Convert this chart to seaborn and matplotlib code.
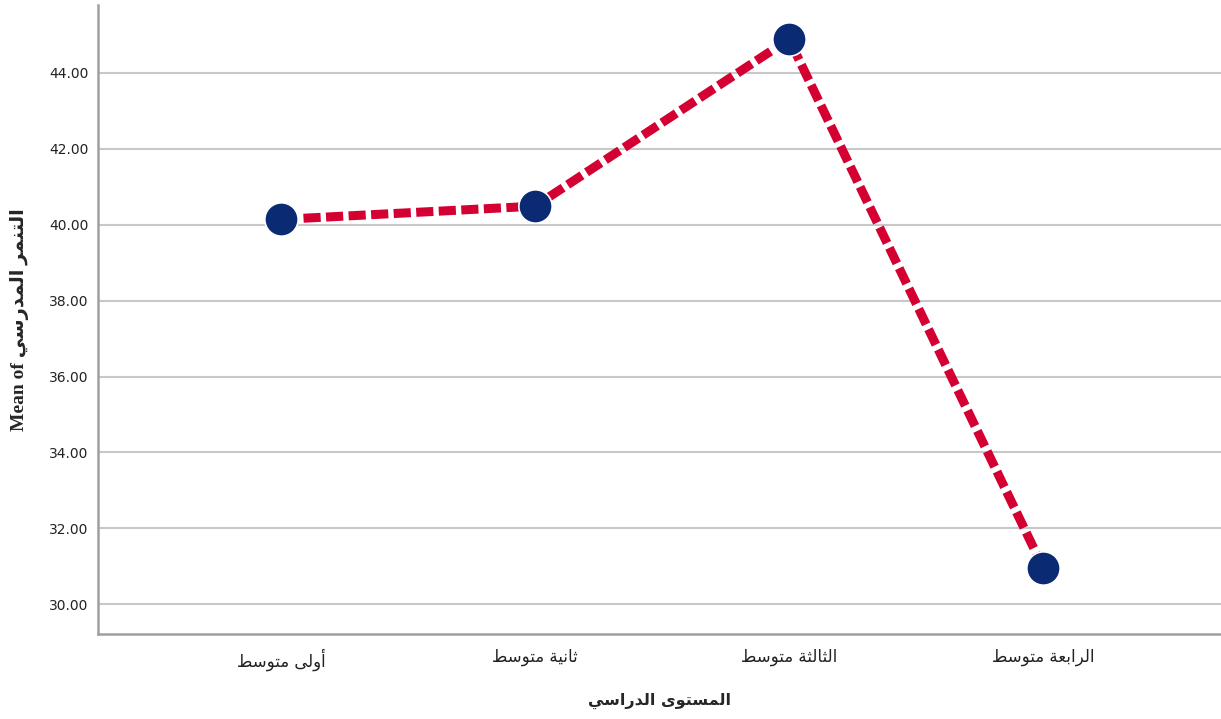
import matplotlib
matplotlib.use("Agg")
import matplotlib.pyplot as plt
import seaborn as sns
import pandas as pd

# --- chart data (logical Arabic text) ---
levels = ["أولى متوسط", "ثانية متوسط", "الثالثة متوسط", "الرابعة متوسط"]
mean_bullying = [40.14, 40.49, 44.89, 30.96]
y_ticks = [30, 32, 34, 36, 38, 40, 42, 44]
x_title = "المستوى الدراسي"
y_title_prefix = "Mean of "
y_title_ar = "التنمر المدرسي"

# minimal Arabic shaping: (isolated, final, initial, medial)
FORMS = {
    "ا": ("\uFE8D", "\uFE8E", None, None),
    "أ": ("\uFE83", "\uFE84", None, None),
    "ب": ("\uFE8F", "\uFE90", "\uFE91", "\uFE92"),
    "ة": ("\uFE93", "\uFE94", None, None),
    "ت": ("\uFE95", "\uFE96", "\uFE97", "\uFE98"),
    "ث": ("\uFE99", "\uFE9A", "\uFE9B", "\uFE9C"),
    "د": ("\uFEA9", "\uFEAA", None, None),
    "ر": ("\uFEAD", "\uFEAE", None, None),
    "س": ("\uFEB1", "\uFEB2", "\uFEB3", "\uFEB4"),
    "ط": ("\uFEC1", "\uFEC2", "\uFEC3", "\uFEC4"),
    "ع": ("\uFEC9", "\uFECA", "\uFECB", "\uFECC"),
    "ل": ("\uFEDD", "\uFEDE", "\uFEDF", "\uFEE0"),
    "م": ("\uFEE1", "\uFEE2", "\uFEE3", "\uFEE4"),
    "ن": ("\uFEE5", "\uFEE6", "\uFEE7", "\uFEE8"),
    "و": ("\uFEED", "\uFEEE", None, None),
    "ى": ("\uFEEF", "\uFEF0", None, None),
    "ي": ("\uFEF1", "\uFEF2", "\uFEF3", "\uFEF4"),
}


def shape_ar(text):
    """Turn logical Arabic into joined presentation forms in visual order."""
    out = []
    for i, ch in enumerate(text):
        if ch not in FORMS:
            out.append(ch)
            continue
        prev = text[i - 1] if i > 0 else ""
        nxt = text[i + 1] if i + 1 < len(text) else ""
        joins_prev = prev in FORMS and FORMS[prev][2] is not None
        joins_next = FORMS[ch][2] is not None and nxt in FORMS
        iso, fin, ini, med = FORMS[ch]
        if joins_prev and joins_next:
            out.append(med)
        elif joins_prev:
            out.append(fin)
        elif joins_next:
            out.append(ini)
        else:
            out.append(iso)
    return "".join(out)[::-1]


df = pd.DataFrame({"level": [shape_ar(s) for s in levels], "mean": mean_bullying})

sns.set_style("white")
fig = plt.figure(figsize=(12.21, 7.19), dpi=100)
ax = fig.add_axes([0.0803, 0.118, 0.9197, 0.875])

sns.lineplot(
    data=df, x="level", y="mean", ax=ax, sort=False,
    color="#d50032", linewidth=6.5, linestyle=(0, (1.9, 0.6)),
    marker="o", markersize=24, markerfacecolor="#0a2a73",
    markeredgecolor="white", markeredgewidth=1.2,
)

ax.set_xlim(-0.72, 3.70)
ax.set_ylim(29.21, 45.79)
ax.set_yticks(y_ticks)
ax.set_yticklabels([f"{v:.2f}" for v in y_ticks])
ax.yaxis.grid(True, color="#c8c8c8", linewidth=1.5)
ax.set_axisbelow(True)

for side in ["top", "right"]:
    ax.spines[side].set_visible(False)
for side in ["left", "bottom"]:
    ax.spines[side].set_color("#a0a0a0")
    ax.spines[side].set_linewidth(1.8)

ax.tick_params(axis="y", length=0, pad=7, labelsize=10, labelcolor="#222222")
ax.tick_params(axis="x", length=0, pad=10, labelsize=12, labelcolor="#222222")

ax.set_xlabel(shape_ar(x_title), fontsize=11.5, fontweight="bold", labelpad=16)
ax.set_ylabel(y_title_prefix + shape_ar(y_title_ar), fontsize=14, fontweight="bold",
              family=["Liberation Serif", "DejaVu Sans"], labelpad=14)

fig.savefig("out.png", dpi=100)
